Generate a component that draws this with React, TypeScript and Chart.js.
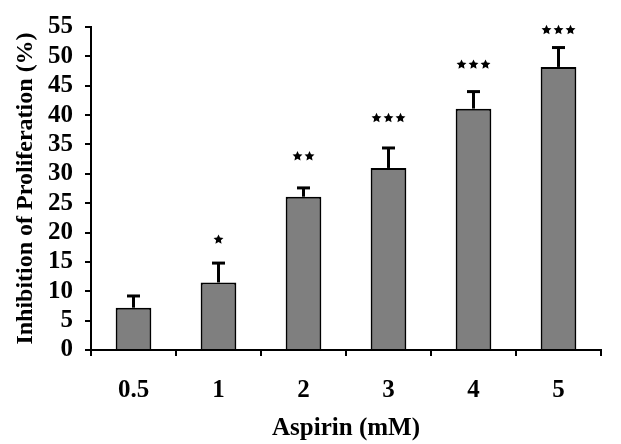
import React, { useEffect, useRef } from "react";
import { Chart, registerables } from "chart.js";

Chart.register(...registerables);

const categories = ["0.5", "1", "2", "3", "4", "5"];
const means = [7.2, 11.5, 26.1, 31.0, 41.1, 48.2];
const errors = [2.0, 3.3, 1.5, 3.4, 2.9, 3.3];
const significance = ["", "*", "**", "***", "***", "***"];
const starLevels = [0, 18.8, 33, 39.5, 48.6, 54.5];
const yTicks = [0, 5, 10, 15, 20, 25, 30, 35, 40, 45, 50, 55];
const yTitle = "Inhibition of Proliferation (%)";
const xTitle = "Aspirin (mM)";

const FONT = "'Liberation Serif', 'Times New Roman', serif";

const errorBarPlugin = {
  id: "errorBars",
  afterDatasetsDraw(chart: any) {
    const ctx = chart.ctx;
    const yScale = chart.scales.y;
    const meta = chart.getDatasetMeta(0);
    ctx.save();
    ctx.strokeStyle = "#000";
    ctx.fillStyle = "#000";
    meta.data.forEach((el: any, i: number) => {
      const x = el.x;
      const top = yScale.getPixelForValue(means[i] + errors[i]);
      ctx.lineWidth = 3;
      ctx.beginPath();
      ctx.moveTo(x, el.y);
      ctx.lineTo(x, top);
      ctx.stroke();
      ctx.beginPath();
      ctx.moveTo(x - 6.5, top);
      ctx.lineTo(x + 6.5, top);
      ctx.stroke();
      const sig = significance[i];
      if (sig) {
        const n = sig.length;
        const sy = yScale.getPixelForValue(starLevels[i]);
        for (let k = 0; k < n; k++) {
          const sx = x + (k - (n - 1) / 2) * 12;
          const R = 5.2;
          const r = 2.5;
          ctx.beginPath();
          for (let p = 0; p < 10; p++) {
            const ang = -Math.PI / 2 + (p * Math.PI) / 5;
            const rad = p % 2 === 0 ? R : r;
            const px = sx + rad * Math.cos(ang);
            const py = sy + rad * Math.sin(ang);
            if (p === 0) ctx.moveTo(px, py);
            else ctx.lineTo(px, py);
          }
          ctx.closePath();
          ctx.fill();
        }
      }
    });
    ctx.restore();
  },
};

export default function App() {
  const ref = useRef<HTMLCanvasElement | null>(null);
  useEffect(() => {
    if (!ref.current) return;
    const chart = new Chart(ref.current, {
      type: "bar",
      data: {
        labels: categories,
        datasets: [
          {
            data: means,
            backgroundColor: "#7f7f7f",
            borderColor: "#000",
            borderWidth: 2,
            barPercentage: 0.42,
            categoryPercentage: 1,
          },
        ],
      },
      options: {
        animation: false,
        responsive: false,
        layout: { padding: { top: 20, right: 20, left: 0, bottom: 0 } },
        plugins: { legend: { display: false }, tooltip: { enabled: false } },
        scales: {
          x: {
            afterFit(scale: any) {
              scale.height = 94;
            },
            border: { display: true, color: "#000", width: 2 },
            grid: {
              display: true,
              drawOnChartArea: false,
              drawTicks: true,
              tickLength: 6,
              color: "#000",
              lineWidth: 2,
              offset: true,
            },
            ticks: {
              color: "#000",
              font: { family: FONT, weight: "bold", size: 25 },
              padding: 20,
            },
            title: {
              display: true,
              text: xTitle,
              color: "#000",
              font: { family: FONT, weight: "bold", size: 25 },
              padding: { top: 0, bottom: 0 },
            },
          },
          y: {
            min: yTicks[0],
            max: yTicks[yTicks.length - 1],
            afterFit(scale: any) {
              scale.width = 91;
            },
            afterBuildTicks(scale: any) {
              scale.ticks = yTicks.map((v) => ({ value: v }));
            },
            border: { display: true, color: "#000", width: 2 },
            grid: {
              display: true,
              drawOnChartArea: false,
              drawTicks: true,
              tickLength: 6,
              color: "#000",
              lineWidth: 2,
            },
            ticks: {
              autoSkip: false,
              color: "#000",
              font: { family: FONT, weight: "bold", size: 25 },
              padding: 12,
            },
            title: {
              display: true,
              text: yTitle,
              color: "#000",
              font: { family: FONT, weight: "bold", size: 24 },
              padding: { top: 11, bottom: 0 },
            },
          },
        },
      },
      plugins: [errorBarPlugin],
    });
    return () => chart.destroy();
  }, []);
  return (
    <div style={{ position: "fixed", left: 0, top: 0, width: 621, height: 444, background: "#fff" }}>
      <canvas ref={ref} width={621} height={444} />
    </div>
  );
}
